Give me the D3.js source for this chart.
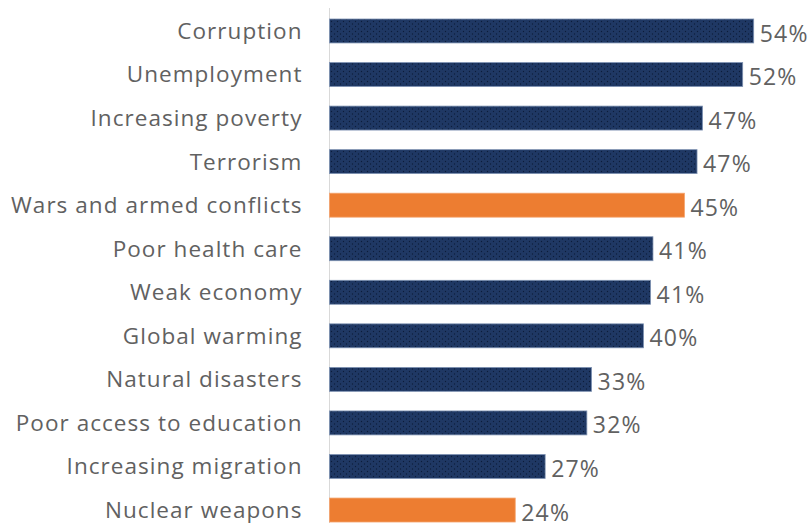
<!DOCTYPE html>
<html>
<head>
<meta charset="utf-8">
<script src="https://cdn.jsdelivr.net/npm/d3@7"></script>
<style>
  body { margin: 0; background: #fff; }
  svg { display: block; }
</style>
</head>
<body>
<div id="chart-area"></div>
<script>
// data
const categories = ["Corruption", "Unemployment", "Increasing poverty", "Terrorism",
  "Wars and armed conflicts", "Poor health care", "Weak economy", "Global warming",
  "Natural disasters", "Poor access to education", "Increasing migration", "Nuclear weapons"]
const values = [53.9, 52.5, 47.4, 46.7, 45.1, 41.1, 40.8, 39.9, 33.3, 32.7, 27.4, 23.6]
const valueLabels = ["54%", "52%", "47%", "47%", "45%", "41%", "41%", "40%", "33%", "32%", "27%", "24%"]
const highlighted = ["Wars and armed conflicts", "Nuclear weapons"]

const W = 811, H = 523
const left = 329.5
const step = 43.55

const svg = d3.select("#chart-area").append("svg")
  .attr("width", W)
  .attr("height", H)

const defs = svg.append("defs")
const pat = defs.append("pattern")
  .attr("id", "dots")
  .attr("patternUnits", "userSpaceOnUse")
  .attr("width", 6)
  .attr("height", 5)
pat.append("rect").attr("width", 6).attr("height", 5).attr("fill", "#1f3864")
pat.append("circle").attr("cx", 1.5).attr("cy", 1.5).attr("r", 0.7).attr("fill", "#0c1c3a")
pat.append("circle").attr("cx", 4.5).attr("cy", 4).attr("r", 0.7).attr("fill", "#0c1c3a")

const x = d3.scaleLinear()
  .domain([0, 60])
  .range([left, left + 60 * 7.87])

// first bar top at ~19, step ~43.55, bar ~24 high
const y = d3.scaleBand()
  .domain(categories)
  .range([19 - step * 0.225, 19 - step * 0.225 + step * 12])
  .paddingInner(0.45)
  .paddingOuter(0.225)

const data = categories.map((c, i) => ({ cat: c, v: values[i], label: valueLabels[i] }))

svg.append("line")
  .attr("x1", left).attr("x2", left)
  .attr("y1", 8).attr("y2", H)
  .attr("stroke", "#d9d9d9")
  .attr("stroke-width", 1)

svg.selectAll("rect.bar")
  .data(data)
  .enter()
  .append("rect")
  .attr("class", "bar")
  .attr("x", x(0))
  .attr("y", d => y(d.cat))
  .attr("width", d => x(d.v) - x(0))
  .attr("height", y.bandwidth())
  .attr("fill", d => highlighted.includes(d.cat) ? "#ed7d31" : "url(#dots)")
  .attr("stroke", d => highlighted.includes(d.cat) ? "#f4a46e" : "#7f93b3")
  .attr("stroke-width", 0.8)

const font = "'Open Sans', sans-serif"

svg.selectAll("text.cat")
  .data(data)
  .enter()
  .append("text")
  .attr("class", "cat")
  .attr("x", left - 27)
  .attr("y", d => y(d.cat) + y.bandwidth() / 2)
  .attr("dy", "0.35em")
  .attr("text-anchor", "end")
  .attr("font-family", font)
  .attr("font-size", "22.5px")
  .attr("letter-spacing", "1.05px")
  .attr("fill", "#616161")
  .text(d => d.cat)

svg.selectAll("text.val")
  .data(data)
  .enter()
  .append("text")
  .attr("class", "val")
  .attr("x", d => x(d.v) + 6)
  .attr("y", d => y(d.cat) + y.bandwidth() / 2 + 2.5)
  .attr("dy", "0.35em")
  .attr("font-family", font)
  .attr("font-size", "23px")
  .attr("letter-spacing", "1.2px")
  .attr("fill", "#616161")
  .text(d => d.label)
</script>
</body>
</html>
